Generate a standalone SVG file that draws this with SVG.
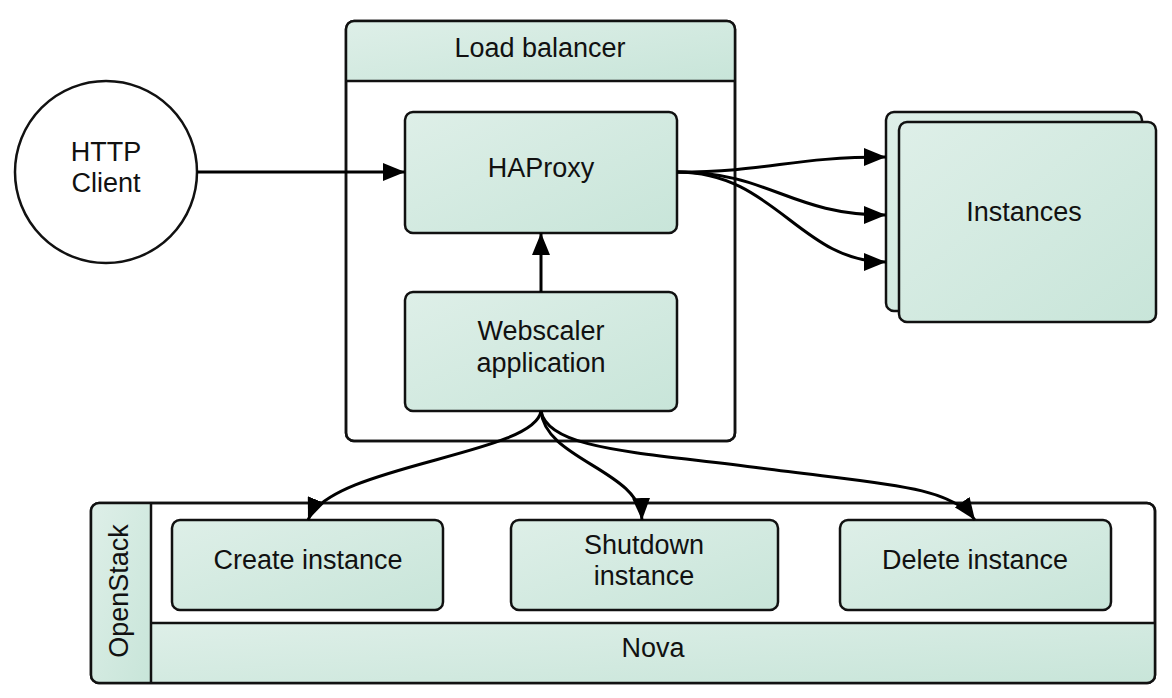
<svg xmlns="http://www.w3.org/2000/svg" width="1172" height="698" viewBox="0 0 1172 698">
  <defs>
    <linearGradient id="g" x1="0" y1="0" x2="1" y2="1">
      <stop offset="0" stop-color="#deefe8"/>
      <stop offset="1" stop-color="#c8e5d9"/>
    </linearGradient>
    <marker id="arr" markerUnits="userSpaceOnUse" markerWidth="22" markerHeight="18" refX="22" refY="9" orient="auto">
      <path d="M0,0 L22,9 L0,18 z" fill="#000"/>
    </marker>
  </defs>
  <style>
    .box{fill:url(#g);stroke:#111;stroke-width:2.5}
    .frame{fill:#fff;stroke:#111;stroke-width:2.5}
    .ln{fill:none;stroke:#111;stroke-width:2.5}
    .t{font-family:"Liberation Sans",Arial,sans-serif;font-size:27px;fill:#111;text-anchor:middle}
    .c{fill:none;stroke:#000;stroke-width:3;marker-end:url(#arr)}
  </style>

  <g id="load-balancer">
    <rect class="frame" x="346" y="21" width="389" height="420" rx="8"/>
    <path d="M346,81 V29 a8,8 0 0 1 8,-8 H727 a8,8 0 0 1 8,8 V81 z" fill="url(#g)"/>
    <rect class="ln" x="346" y="21" width="389" height="420" rx="8"/>
    <line class="ln" x1="346" y1="81" x2="735" y2="81"/>
    <text class="t" x="540" y="57">Load balancer</text>
  </g>

  <g id="http-client">
    <circle cx="106" cy="172" r="91" fill="#fff" stroke="#111" stroke-width="2.5"/>
    <text class="t" x="106" y="161">HTTP</text>
    <text class="t" x="106" y="192">Client</text>
  </g>

  <g id="haproxy">
    <rect class="box" x="405" y="112" width="272" height="121" rx="8"/>
    <text class="t" x="541" y="177">HAProxy</text>
  </g>

  <g id="webscaler">
    <rect class="box" x="405" y="292" width="272" height="119" rx="8"/>
    <text class="t" x="541" y="340">Webscaler</text>
    <text class="t" x="541" y="372">application</text>
  </g>

  <g id="instances">
    <rect class="box" x="886" y="112" width="256" height="199" rx="8"/>
    <rect class="box" x="899" y="122" width="257" height="200" rx="8"/>
    <text class="t" x="1024" y="221">Instances</text>
  </g>

  <g id="openstack">
    <rect class="frame" x="91" y="503" width="1064" height="180" rx="8"/>
    <path d="M151,503 H99 a8,8 0 0 0 -8,8 V675 a8,8 0 0 0 8,8 H151 z" fill="url(#g)"/>
    <path d="M151,623 H1155 V675 a8,8 0 0 1 -8,8 H151 z" fill="url(#g)"/>
    <rect class="ln" x="91" y="503" width="1064" height="180" rx="8"/>
    <line class="ln" x1="151" y1="503" x2="151" y2="683"/>
    <line class="ln" x1="151" y1="623" x2="1155" y2="623"/>
    <text class="t" transform="translate(128,591) rotate(-90)">OpenStack</text>
    <text class="t" x="653" y="657">Nova</text>
  </g>

  <g id="create-instance">
    <rect class="box" x="172" y="520" width="271" height="90" rx="8"/>
    <text class="t" x="308" y="569">Create instance</text>
  </g>

  <g id="shutdown-instance">
    <rect class="box" x="511" y="520" width="267" height="90" rx="8"/>
    <text class="t" x="644" y="554">Shutdown</text>
    <text class="t" x="644" y="585">instance</text>
  </g>

  <g id="delete-instance">
    <rect class="box" x="840" y="520" width="271" height="90" rx="8"/>
    <text class="t" x="975" y="569">Delete instance</text>
  </g>

  <g id="connectors">
    <path class="c" d="M197,172 L405,172"/>
    <path class="c" d="M541,292 L541,233"/>
    <path class="c" d="M677,172 C770,172 790,157 886,157"/>
    <path class="c" d="M677,172 C770,172 790,215 886,215"/>
    <path class="c" d="M677,172 C775,172 800,262 886,262"/>
    <path class="c" d="M541,411 C535,455 330,465 308,520"/>
    <path class="c" d="M541,411 C545,460 640,470 642,520"/>
    <path class="c" d="M541,411 C548,450 640,452 760,468 C880,484 950,485 975,520"/>
  </g>
</svg>
